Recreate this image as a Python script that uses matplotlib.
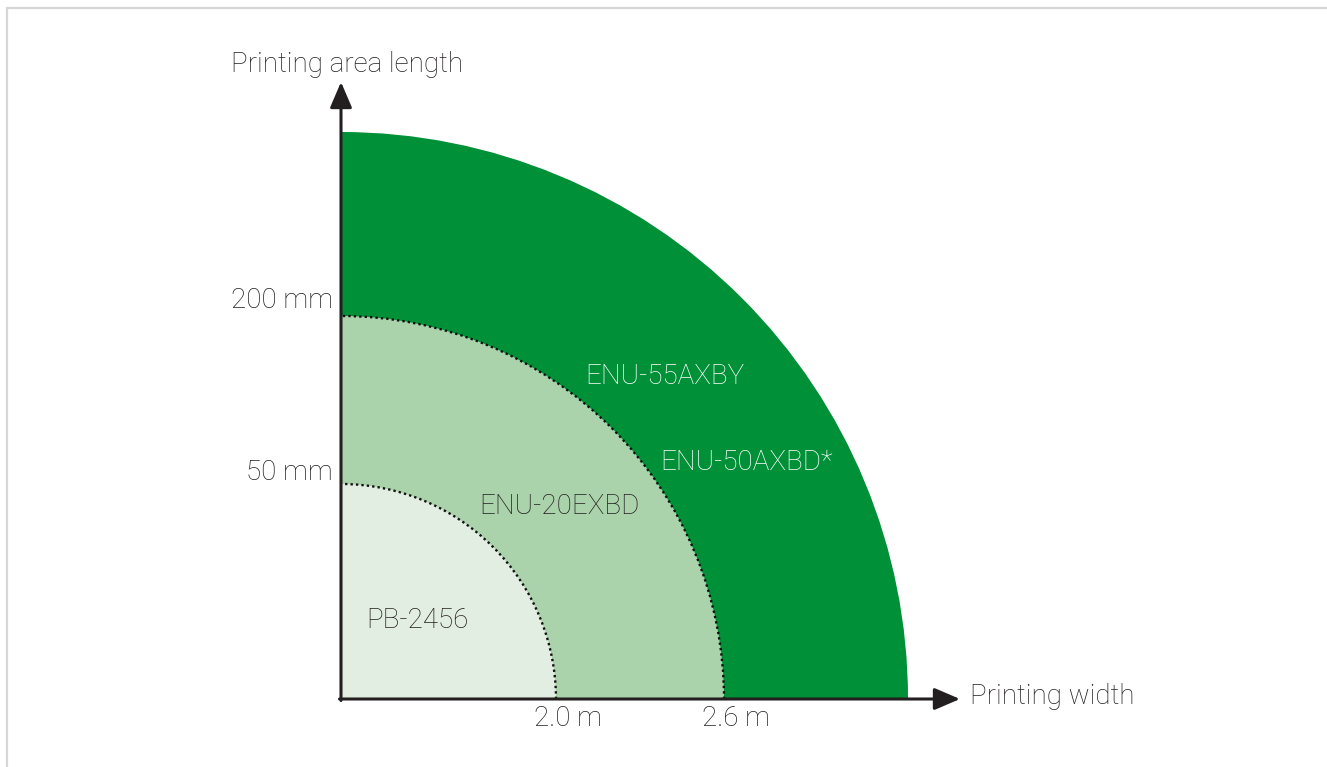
import numpy as np
import matplotlib
matplotlib.use("Agg")
import matplotlib.pyplot as plt
from matplotlib.patches import Wedge, Arc

# ---- data (schematic units; 1 unit = 100 px) ----
zones = ["PB-2456", "ENU-20EXBD", "ENU-50AXBD*"]
zone_radius = [2.15, 3.83, 5.67]
zone_colors = ["#e2eee1", "#aad3ab", "#009037"]
dotted_edges = [True, True, False]

zone_labels = ["PB-2456", "ENU-20EXBD", "ENU-55AXBY", "ENU-50AXBD*"]
label_x = [0.25, 1.38, 2.44, 3.19]
label_y = [0.79, 1.92, 3.22, 2.36]
label_ha = ["left", "left", "left", "left"]
label_col = ["#231f20", "#231f20", "white", "white"]

x_ticks = [2.27, 3.95]
x_tick_labels = ["2.0 m", "2.6 m"]
y_ticks = [3.98, 2.26]
y_tick_labels = ["200 mm", "50 mm"]

x_title = "Printing width"
y_title = "Printing area length"

W, H = 1327, 767
fig = plt.figure(figsize=(W / 100, H / 100), dpi=100)
ax = fig.add_axes([0, 0, 1, 1])
ax.set_xlim(-3.41, (W - 341) / 100)
ax.set_ylim(-(H - 699) / 100, 6.99)
ax.axis("off")

plt.rcParams["font.family"] = ["Roboto", "DejaVu Sans"]
FW = "light"
TC = "#231f20"

# frame
fx0, fy0 = (7 - 341) / 100, (699 - 8) / 100
ax.plot([fx0, fx0, 20], [-5, fy0, fy0], color="#d6d6d6", lw=1.6, zorder=0,
        solid_joinstyle="miter")

# zones (largest first)
for r, c in sorted(zip(zone_radius, zone_colors), reverse=True):
    ax.add_patch(Wedge((0, 0), r, 0, 90, facecolor=c, edgecolor="none", zorder=1))
for r, d in zip(zone_radius, dotted_edges):
    if d:
        ax.add_patch(Arc((0, 0), 2 * r, 2 * r, theta1=0, theta2=90,
                         color="#111111", lw=1.7, linestyle=(0, (1, 1.3)), zorder=2))

# axes arrows
aprops = dict(arrowstyle="-|>,head_length=0.56,head_width=0.24", lw=2.2,
              color=TC, mutation_scale=28, shrinkA=0, shrinkB=0)
ax.annotate("", xy=(0, 6.17), xytext=(0, -0.015), arrowprops=aprops, zorder=3)
ax.annotate("", xy=(6.19, 0), xytext=(-0.015, 0), arrowprops=aprops, zorder=3)

fs = 20
ax.text(0.065, 6.34, y_title, ha="center", va="center", fontsize=fs, color=TC, fontweight=FW)
ax.text(6.29, 0.02, x_title, ha="left", va="center", fontsize=fs, color=TC, fontweight=FW)

for x, t in zip(x_ticks, x_tick_labels):
    ax.text(x, -0.19, t, ha="center", va="center", fontsize=fs, color=TC, fontweight=FW)
for y, t in zip(y_ticks, y_tick_labels):
    ax.text(-0.08, y, t, ha="right", va="center", fontsize=fs, color=TC, fontweight=FW)

for t, x, y, ha, c in zip(zone_labels, label_x, label_y, label_ha, label_col):
    ax.text(x, y, t, ha=ha, va="center", fontsize=fs, color=c, fontweight=FW, zorder=4)

fig.savefig("out.png", dpi=100)
